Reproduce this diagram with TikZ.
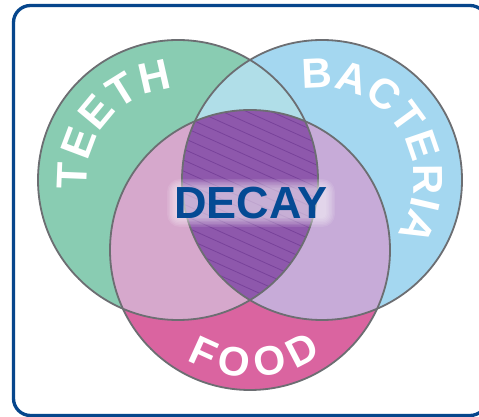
\documentclass[tikz,border=0pt]{standalone}
\usepackage{fontspec}
\setmainfont{Liberation Sans}
\usetikzlibrary{decorations.text}

\definecolor{teethgreen}{RGB}{137,204,178}
\definecolor{bactblue}{RGB}{164,215,240}
\definecolor{foodpink}{RGB}{218,100,160}
\definecolor{teethbact}{RGB}{176,222,232}
\definecolor{teethfood}{RGB}{214,168,204}
\definecolor{bactfood}{RGB}{199,171,216}
\definecolor{decaypurple}{RGB}{142,88,172}
\definecolor{stripepurple}{RGB}{120,66,154}
\definecolor{ringgray}{RGB}{108,110,114}
\definecolor{decayblue}{RGB}{4,74,148}
\definecolor{frameblue}{RGB}{6,70,140}

\tikzset{
  ring/.style={draw=ringgray, line width=1.8},
  arclabel/.style 2 args={decorate, decoration={text along path, text color=white,
      text align={fit to path},
      text={|\bfseries\fontsize{#1}{#1}\selectfont|#2}}},
  glowlayer/.style={fill=white, opacity=0.1, rounded corners=#1}
}

\begin{document}
\begin{tikzpicture}[x=1pt,y=1pt]
  \clip (0,0) rectangle (479,417);
  \fill[white] (0,0) rectangle (479,417);

  \coordinate (teeth) at (178,237);
  \coordinate (bact) at (322,237);
  \coordinate (food) at (250,167);
  \coordinate (decaypos) at (251,214);
  \coordinate (glowsw) at (176,199);
  \coordinate (glowne) at (326,229);

  % single sets
  \fill[teethgreen] (teeth) circle[radius=140];
  \fill[bactblue] (bact) circle[radius=140];
  \fill[foodpink] (food) circle[radius=140];

  % pairs
  \begin{scope}
    \clip (teeth) circle[radius=140];
    \fill[teethbact] (bact) circle[radius=140];
    \fill[teethfood] (food) circle[radius=140];
  \end{scope}
  \begin{scope}
    \clip (bact) circle[radius=140];
    \fill[bactfood] (food) circle[radius=140];
  \end{scope}

  % all three
  \begin{scope}
    \clip (teeth) circle[radius=140];
    \clip (bact) circle[radius=140];
    \clip (food) circle[radius=140];
    \fill[decaypurple] (150,100) rectangle (350,320);
    \foreach \c in {140,151,...,420}
      \draw[stripepurple, line width=0.8] (150,\c) -- (350,\c-90);
  \end{scope}

  \draw[ring] (teeth) circle[radius=140];
  \draw[ring] (bact) circle[radius=140];
  \draw[ring] (food) circle[radius=140];

  % labels on the rings
  \path[arclabel={43}{TEETH}] ([shift={(186:91)}]teeth)
    arc[start angle=186, end angle=93, radius=91];
  \path[arclabel={42}{BACTERIA}] ([shift={(102:92)}]bact)
    arc[start angle=102, end angle=-36, radius=92];
  \path[arclabel={41}{FOOD}] ([shift={(-120:127)}]food)
    arc[start angle=-120, end angle=-56, radius=127];

  % soft halo, then DECAY
  \foreach \d in {0,1.5,...,9}
    \path[glowlayer=4+\d] ([shift={(-\d,-\d)}]glowsw) rectangle ([shift={(\d,\d)}]glowne);
  \node[text=decayblue, font=\bfseries\fontsize{45}{45}\selectfont] (decay) at (decaypos) {DECAY};

  \draw[frameblue, line width=3.3, rounded corners=17] (13.5,1.5) rectangle (487,411.5);
\end{tikzpicture}
\end{document}
